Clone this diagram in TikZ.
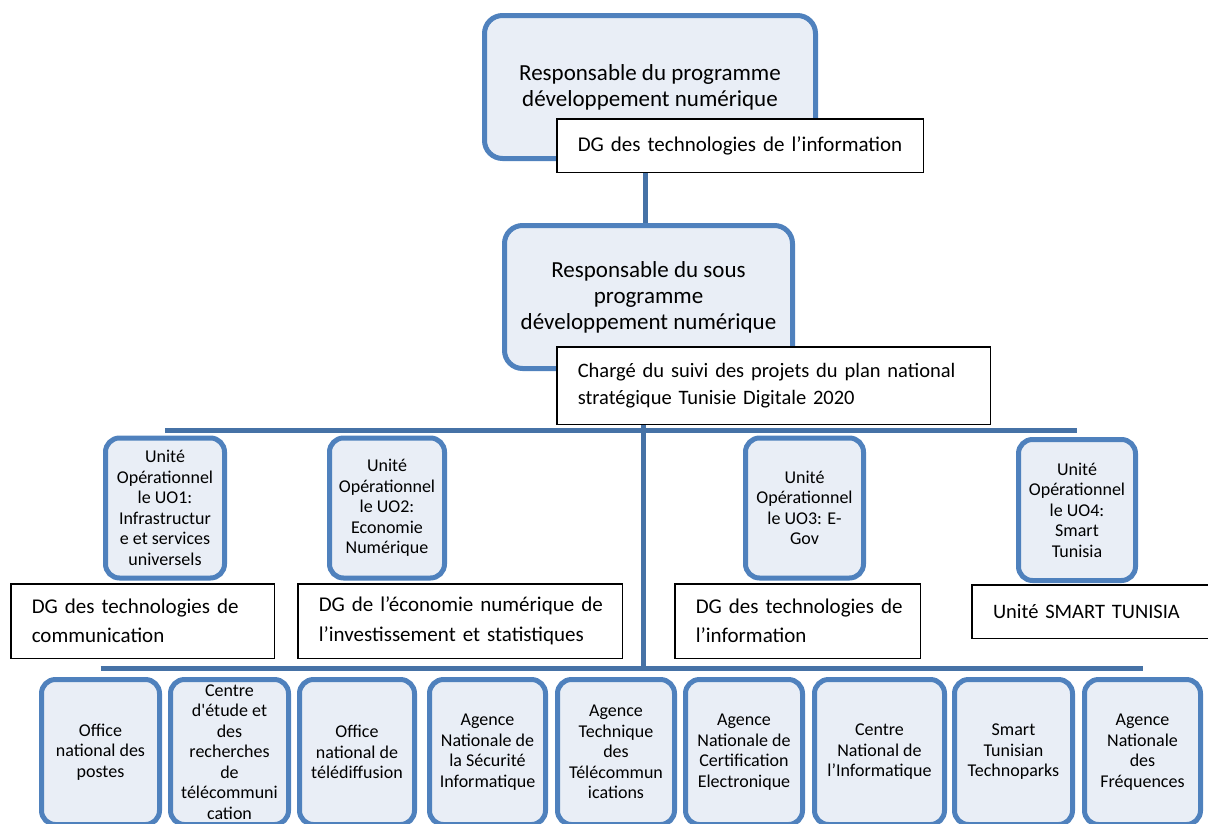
\documentclass[tikz,border=0pt]{standalone}
\usepackage{fontspec}
\setmainfont{Carlito}
\usetikzlibrary{backgrounds}
\definecolor{accent}{HTML}{4F81BD}
\definecolor{boxfill}{HTML}{E9EEF6}
\definecolor{barblue}{HTML}{4672A6}
\begin{document}
\begin{tikzpicture}[x=1pt,y=-1pt,
  bluebox/.style={draw=accent, line width=5pt, fill=boxfill, rounded corners=14pt, align=center, inner sep=0pt, text=black},
  bigblue/.style={bluebox, rounded corners=18pt, font=\fontsize{23}{26}\selectfont},
  smallblue/.style={bluebox, font=\fontsize{18}{20.5}\selectfont},
  unitbox/.style={smallblue, minimum height=140pt},
  orgbox/.style={smallblue, minimum height=145pt},
  whitebox/.style={draw=black, line width=1.5pt, fill=white, align=left, inner xsep=21pt, inner ysep=0pt, font=\fontsize{21}{29.5}\selectfont},
  conn/.style={draw=barblue, line width=5pt}
]
\path[use as bounding box] (0,0) rectangle (1208,823);
\clip (0,0) rectangle (1208,823);

% level 1
\node[bigblue, minimum width=331pt, minimum height=143pt] (top) at (650,87) {Responsable du programme\\développement numérique};
\node[whitebox, text width=324.5pt, minimum height=53.5pt] (dgtop) at (740,145.5) {\mbox{DG des technologies de l’information}};

% level 2
\node[bigblue, minimum width=288pt, minimum height=143pt] (mid) at (648.5,297) {Responsable du sous\\programme\\développement numérique};
\node[whitebox, font=\fontsize{20.5}{27}\selectfont, text width=391.5pt, minimum height=77.5pt] (charge) at (773.5,385.5) {\mbox{Chargé du suivi des projets du plan national}\\\mbox{stratégique Tunisie Digitale 2020}};

% level 3 units
\node[unitbox, minimum width=119pt] (uo1) at (165,508) {Unité\\Opérationnel\\le UO1:\\Infrastructur\\e et services\\universels};
\node[unitbox, minimum width=115pt] (uo2) at (387,508) {Unité\\Opérationnel\\le UO2:\\Economie\\Numérique};
\node[unitbox, minimum width=118pt] (uo3) at (804.5,508) {Unité\\Opérationnel\\le UO3: E-\\Gov};
\node[unitbox, minimum width=117pt, minimum height=141pt] (uo4) at (1077,510) {Unité\\Opérationnel\\le UO4:\\Smart\\Tunisia};

\node[whitebox, text width=221.5pt, minimum height=74.5pt] (dg1) at (142.5,621) {\mbox{DG des technologies de}\\\mbox{communication}};
\node[whitebox, text width=282.5pt, minimum height=74.5pt] (dg2) at (460,621) {\mbox{DG de l’économie numérique de}\\\mbox{l’investissement et statistiques}};
\node[whitebox, text width=203.5pt, minimum height=74.5pt] (dg3) at (797.5,621) {\mbox{DG des technologies de}\\\mbox{l’information}};
\node[whitebox, font=\fontsize{20.5}{27}\selectfont, text width=198pt, minimum height=53.5pt] (dg4) at (1092,611.5) {\mbox{Unité SMART TUNISIA}};

% level 4 organisations
\node[orgbox, minimum width=118pt] (o1) at (100.5,752) {Office\\national des\\postes};
\node[orgbox, minimum width=118pt] (o2) at (229.5,752) {Centre\\d\textquotesingle étude et\\des\\recherches\\de\\télécommuni\\cation};
\node[orgbox, minimum width=115pt] (o3) at (357,752) {Office\\national de\\télédiffusion};
\node[orgbox, minimum width=116pt] (o4) at (487.5,752) {Agence\\Nationale de\\la Sécurité\\Informatique};
\node[orgbox, minimum width=117pt] (o5) at (616,752) {Agence\\Technique\\des\\Télécommun\\ications};
\node[orgbox, minimum width=117pt] (o6) at (744,752) {Agence\\Nationale de\\Certification\\Electronique};
\node[orgbox, minimum width=130pt] (o7) at (879.5,752) {Centre\\National de\\l’Informatique};
\node[orgbox, minimum width=118pt] (o8) at (1013.5,752) {Smart\\Tunisian\\Technoparks};
\node[orgbox, minimum width=116pt] (o9) at (1142.5,752) {Agence\\Nationale\\des\\Fréquences};

% connectors
\begin{scope}[on background layer]
\coordinate (tbL) at (uo1.north |- 0,430);
\coordinate (tbR) at (uo4.north |- 0,430);
\coordinate (bbL) at (o1.north |- 0,668);
\coordinate (bbR) at (o9.north |- 0,668);
\coordinate (drop) at (643,668);
\draw[conn] ([xshift=-5pt]top.south) -- ([xshift=-5pt]top.south |- mid.north);
\draw[conn] (tbL) -- (tbR);
\draw[conn] (bbL) -- (bbR);
\draw[conn] (drop |- mid.south) -- (drop);
\end{scope}
\end{tikzpicture}
\end{document}
